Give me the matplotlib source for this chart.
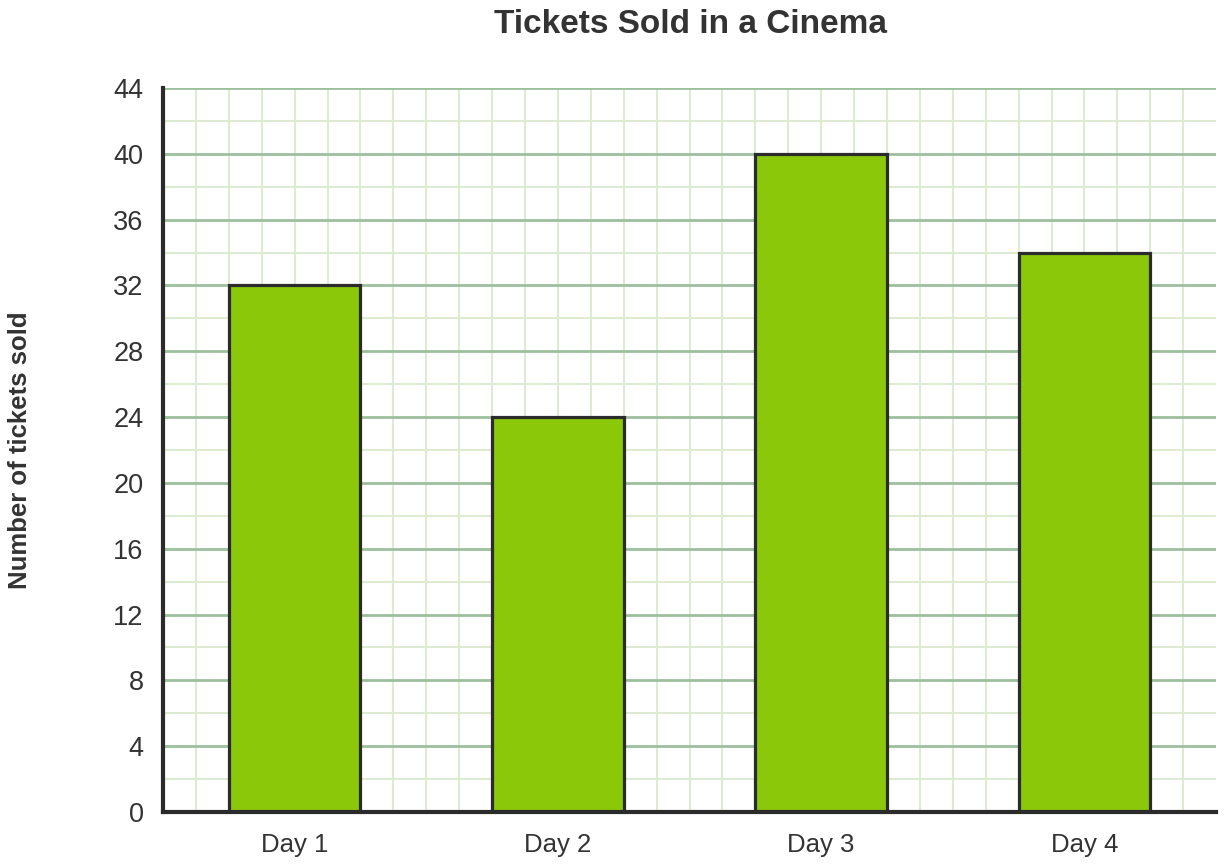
import matplotlib
matplotlib.use("Agg")
import matplotlib.pyplot as plt
import numpy as np

days = ["Day 1", "Day 2", "Day 3", "Day 4"]
tickets = [32, 24, 40, 34]
y_ticks = list(range(0, 45, 4))

plt.rcParams['font.family'] = ['Liberation Sans', 'DejaVu Sans']

fig = plt.figure(figsize=(12.24, 8.66), dpi=100, facecolor='white')
ax = fig.add_axes([0.1332, 0.0624, 0.8603, 0.836])

x = np.arange(len(days))
ax.bar(x, tickets, width=0.5, color='#8bc80a', edgecolor='#2b2b2b',
       linewidth=2.3, zorder=3)

ax.set_xlim(-0.5, len(days) - 0.5)
ax.set_ylim(0, 44)

# grid
ax.set_yticks(y_ticks)
ax.set_yticks(np.arange(0, 45, 2), minor=True)
ax.set_xticks(x)
ax.set_xticks(np.arange(-0.375, len(days) - 0.5, 0.125), minor=True)
ax.grid(which='minor', axis='both', color='#dcebd2', linewidth=1.5, zorder=0)
ax.grid(which='major', axis='y', color='#9dbf9d', linewidth=2, zorder=1)
ax.grid(which='major', axis='x', color='#dcebd2', linewidth=1.5, zorder=0)

ax.set_xticklabels(days)
ax.tick_params(which='both', length=0)
ax.tick_params(axis='y', labelsize=19.5, pad=14, colors='#333333')
ax.tick_params(axis='x', labelsize=18.5, pad=15, colors='#333333')

for side in ['top', 'right']:
    ax.spines[side].set_visible(False)
for side in ['left', 'bottom']:
    ax.spines[side].set_color('#2b2b2b')
    ax.spines[side].set_linewidth(3)
    ax.spines[side].set_zorder(5)

fig.text(0.0165, 0.48, 'Number of tickets sold', fontsize=18.5,
         fontweight='bold', color='#333333', rotation=90,
         ha='center', va='center')
fig.text(0.564, 0.99, 'Tickets Sold in a Cinema', fontsize=24,
         fontweight='bold', color='#333333', ha='center', va='top')

fig.savefig('out.png', dpi=100, facecolor='white')
